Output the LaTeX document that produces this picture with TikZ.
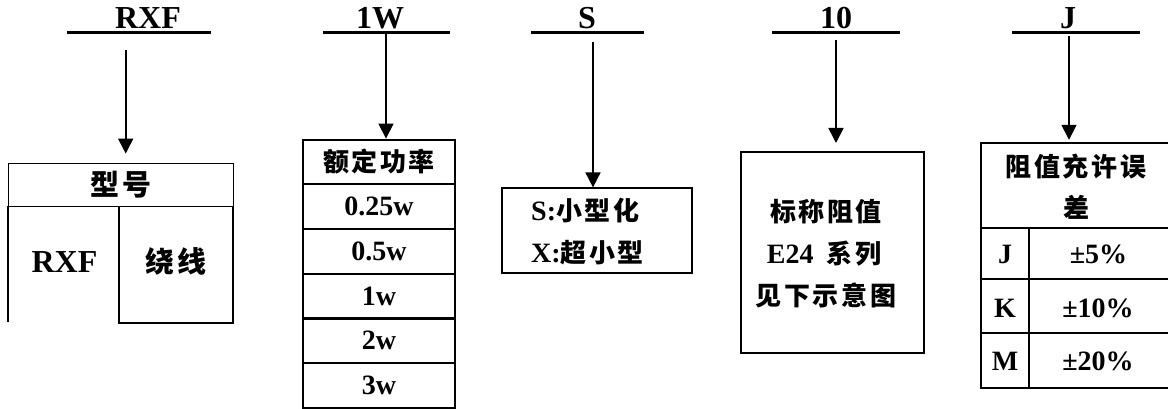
\documentclass[tikz,border=0pt]{standalone}
\usepackage{fontspec}
\setmainfont{Liberation Serif}
\newfontfamily\cjkf{Noto Sans CJK SC}[LetterSpace=10]
\usetikzlibrary{arrows.meta}
\newcommand{\ltA}{\fontsize{32}{36}\selectfont\bfseries}
\newcommand{\ltB}{\fontsize{28}{32}\selectfont\bfseries}
\newcommand{\cjA}{\fontsize{26}{30}\selectfont\cjkf\bfseries}
\newcommand{\cjB}{\fontsize{29}{33}\selectfont\cjkf\bfseries}
\begin{document}
\begin{tikzpicture}[x=1pt,y=-1pt,
  ttl/.style={font=\ltA, inner sep=0pt, anchor=base},
  uline/.style={line width=3pt},
  arr/.style={line width=1.7pt, -{Triangle[length=15pt,width=15pt]}},
  boxthin/.style={draw, line width=1.2pt, inner sep=0pt},
  boxheavy/.style={draw, line width=2.2pt, inner sep=0pt, minimum width=152pt, minimum height=44.7pt, font=\ltB},
  txt/.style={inner sep=0pt, anchor=base, font=\ltB},
  cjt/.style={inner sep=0pt, font=\cjA},
  tline/.style={line width=1.2pt},
  jline/.style={line width=1.5pt},
]
\useasboundingbox (0,0) rectangle (1168,409);
% titles
\node[ttl] (tRXF) at (148,29) {RXF};
\node[ttl] (t1W) at (380,29) {1W};
\node[ttl] (tS) at (587,29) {S};
\node[ttl] (t10) at (836,29) {10};
\node[ttl] (tJ) at (1068,29) {J};
\draw[uline] (67,33) -- (211,33);
\draw[uline] (323,33) -- (450,33);
\draw[uline] (531,33) -- (644,33);
\draw[uline] (772,33) -- (900,33);
\draw[uline] (1012,33) -- (1140,33);
\coordinate (s1) at (125.7,50);
\coordinate (s2) at (386,33);
\coordinate (s3) at (593,42);
\coordinate (s4) at (836,40);
\coordinate (s5) at (1069,36);
% box 1
\node[boxthin, minimum width=225pt, minimum height=43pt, anchor=north west, font=\cjB] (m1) at (8,163) {型号};
\draw[tline] (8,206) -- (8,322);
\draw[tline] (233,206) -- (233,323) -- (119,323) -- (119,206);
\node[txt, font=\ltA] (m1a) at (64.5,272) {RXF};
\node[cjt, font=\cjB] (m1b) at (176,261) {绕线};
\draw[arr, shorten >=9.4pt] (s1) -- (s1 |- m1.north);
% box 2
\node[boxheavy, font=\cjA] (p0) at (379,162) {额定功率};
\node[boxheavy] (p1) at (379,206.7) {0.25w};
\node[boxheavy] (p2) at (379,251.4) {0.5w};
\node[boxheavy] (p3) at (379,296.1) {1w};
\node[boxheavy] (p4) at (379,340.8) {2w};
\node[boxheavy] (p5) at (379,385.5) {3w};
\draw[arr] (s2) -- (s2 |- p0.north);
% box 3
\node[boxthin, minimum width=190pt, minimum height=85pt] (sb) at (597,230.5) {};
\node[txt, anchor=base west] (sb1) at (531,220) {S:{\cjA 小型化}};
\node[txt, anchor=base west] (sb2) at (531,262) {X:{\cjA 超小型}};
\draw[arr] (s3) -- (s3 |- sb.north);
% box 4
\node[boxthin, minimum width=183pt, minimum height=201pt] (eb) at (832.5,252.5) {};
\node[cjt] (e1) at (826,212) {标称阻值};
\node[txt] (e2) at (824,263) {E24\hspace{13pt}{\cjA 系列}};
\node[cjt] (e3) at (826,295) {见下示意图};
\draw[arr, shorten >=8.4pt] (s4) -- (s4 |- eb.north);
% box 5
\node[inner sep=0pt, minimum width=189pt, minimum height=85pt, anchor=north west] (jh) at (981,143) {};
\draw[jline] (1170,143) -- (981,143) -- (981,388) -- (1170,388);
\draw[jline] (981,228) -- (1170,228);
\draw[jline] (981,279) -- (1170,279);
\draw[jline] (981,333) -- (1170,333);
\draw[jline] (1029,228) -- (1029,388);
\node[cjt] (j0) at (1076,167) {阻值充许误};
\node[cjt] (j0b) at (1076,207) {差};
\node[txt] (j1) at (1005,263) {J};
\node[txt] (j1v) at (1098.5,263) {±5\%};
\node[txt] (j2) at (1005,317) {K};
\node[txt] (j2v) at (1098,317) {±10\%};
\node[txt] (j3) at (1005,370) {M};
\node[txt] (j3v) at (1098,370) {±20\%};
\draw[arr, shorten >=3.2pt] (s5) -- (s5 |- jh.north);
\end{tikzpicture}
\end{document}
